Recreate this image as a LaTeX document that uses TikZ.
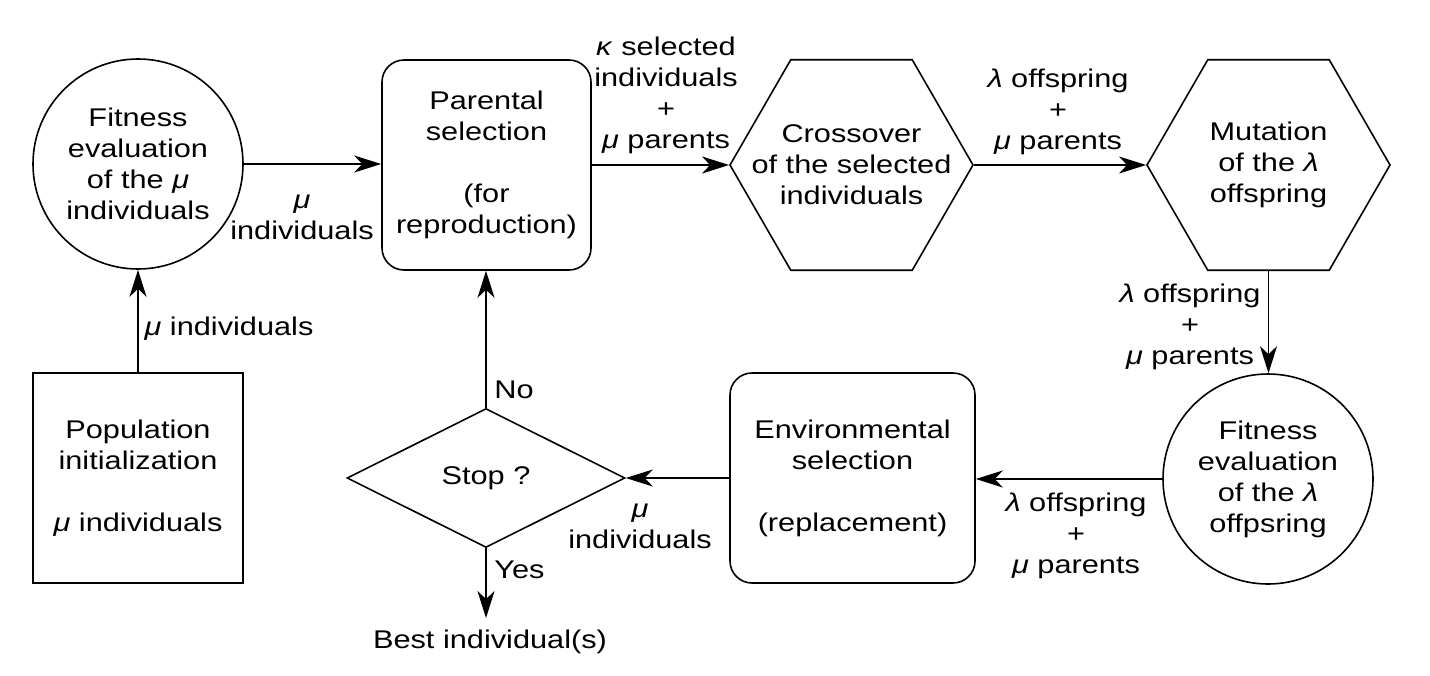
\documentclass[tikz,border=0pt]{standalone}
\usepackage{fontspec}
\setmainfont{Liberation Sans}[FakeStretch=1.2]
\usetikzlibrary{arrows.meta,shapes.geometric}
\newcommand{\gmu}{\textit{μ}}
\newcommand{\glam}{\textit{λ}}
\newcommand{\gkap}{\textit{κ}}
\begin{document}
\begin{tikzpicture}[x=0.5pt,y=-0.5pt,
  every node/.style={font=\fontsize{12.8}{15.5}\selectfont, align=center, inner sep=0pt},
  shp/.style={draw, line width=0.8pt},
  circ/.style={shp, circle, minimum size=105pt},
  rbox/.style={shp, rectangle, rounded corners=11pt, minimum height=105pt},
  sbox/.style={shp, rectangle, minimum width=105pt, minimum height=105pt},
  hexa/.style={shp, regular polygon, regular polygon sides=6, minimum size=121.5pt},
  dia/.style={shp, diamond, minimum width=139pt, minimum height=69.5pt},
  conn/.style={line width=0.8pt, -{Stealth[length=13.5pt,width=8.5pt,inset=4pt]}}]
\useasboundingbox (0,0) rectangle (1430,675);
% shapes
\node[circ] (fit1) at (138,164) {Fitness\\evaluation\\of the \gmu\\individuals};
\node[rbox, minimum width=104.5pt] (par) at (486.5,165) {Parental\\selection\\[15.5pt](for\\reproduction)};
\node[hexa, label={center:{Crossover\\of the selected\\individuals}}] (cross) at (851.5,165) {};
\node[hexa, label={center:{Mutation\\of the \glam\\offspring}}] (mut) at (1268.5,165) {};
\node[circ] (fit2) at (1268,479) {Fitness\\evaluation\\of the \glam\\offpsring};
\node[rbox, minimum width=122.5pt] (env) at (852.5,478) {Environmental\\selection\\[15.5pt](replacement)};
\node[dia] (stop) at (486,478) {Stop ?};
\node[sbox] (pop) at (138,478) {Population\\initialization\\[15.5pt]\gmu\ individuals};
\node[anchor=base, inner ysep=5.5pt] (best) at (490,648) {Best individual(s)};
% connectors
\draw[conn] (pop) -- (fit1);
\draw[conn] (fit1.east) -- (fit1.east -| par.west);
\draw[conn] (par.east) -- (cross.west);
\draw[conn] (cross.east) -- (mut.west);
\draw[conn] (mut.south) -- (mut.south |- fit2.north);
\draw[conn] (fit2.west) -- (fit2.west -| env.east);
\draw[conn] (env.west) -- (stop.east);
\draw[conn] (stop.north) -- (stop.north |- par.south);
\draw[conn] (stop.south) -- (stop.south |- best.north);
% labels
\node[anchor=base] (l0) at (229,335) {\gmu\ individuals};
\node (l1) at (302,217) {\gmu\\individuals};
\node (l2) at (666,95) {\gkap\ selected\\individuals\\+\\\gmu\ parents};
\node (l3) at (1058,112) {\glam\ offspring\\+\\\gmu\ parents};
\node (l4) at (1190,327) {\glam\ offspring\\+\\\gmu\ parents};
\node (l5) at (1076,536) {\glam\ offspring\\+\\\gmu\ parents};
\node (l6) at (640,526) {\gmu\\individuals};
\node[anchor=base west] (no) at (494,398) {No};
\node[anchor=base west] (yes) at (494,578) {Yes};
\end{tikzpicture}
\end{document}
